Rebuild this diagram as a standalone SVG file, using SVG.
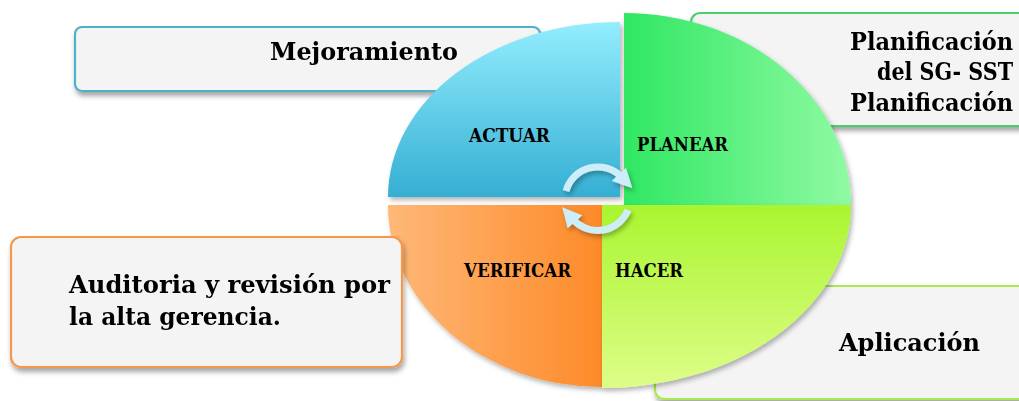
<svg xmlns="http://www.w3.org/2000/svg" width="1019" height="401" viewBox="0 0 1019 401">
<style>
.box{fill:#f4f4f4;stroke-width:2.2}
.big{font-family:"DejaVu Serif","Liberation Serif",serif;font-weight:bold;font-size:25px;fill:#000}
.end{text-anchor:end}
.q{font-family:"DejaVu Serif","Liberation Serif",serif;font-weight:bold;font-size:18px;fill:#000}
.cyc{fill:none;stroke:#cdeef8;stroke-width:7;stroke-linecap:butt}
</style>
<defs>
<filter id="sh" x="-10%" y="-10%" width="130%" height="140%">
<feDropShadow dx="1.5" dy="4" stdDeviation="2.5" flood-color="#000" flood-opacity="0.35"/>
</filter>
<filter id="sh2" x="-10%" y="-10%" width="130%" height="130%">
<feDropShadow dx="2" dy="3" stdDeviation="2.5" flood-color="#000" flood-opacity="0.3"/>
</filter>
<linearGradient id="gBlue" x1="0" y1="22" x2="0" y2="197" gradientUnits="userSpaceOnUse">
<stop offset="0" stop-color="#93edfe"/><stop offset="1" stop-color="#35afd3"/>
</linearGradient>
<linearGradient id="gGreen" x1="624" y1="0" x2="851" y2="0" gradientUnits="userSpaceOnUse">
<stop offset="0" stop-color="#30e763"/><stop offset="1" stop-color="#8ffaa2"/>
</linearGradient>
<linearGradient id="gOrange" x1="388" y1="0" x2="602" y2="0" gradientUnits="userSpaceOnUse">
<stop offset="0" stop-color="#feb878"/><stop offset="1" stop-color="#fd8a28"/>
</linearGradient>
<linearGradient id="gLime" x1="0" y1="205" x2="0" y2="388" gradientUnits="userSpaceOnUse">
<stop offset="0" stop-color="#a9f530"/><stop offset="1" stop-color="#defd88"/>
</linearGradient>
<marker id="ah" viewBox="0 0 10 10" refX="2" refY="5" markerWidth="2.8" markerHeight="2.8" orient="auto" markerUnits="strokeWidth">
<path d="M0,0 L10,5 L0,10 Z" fill="#cdeef8"/>
</marker>
</defs>

<g id="box-mejoramiento" filter="url(#sh)">
<rect class="box" x="75" y="27" width="465" height="64" rx="7" stroke="#4fb0c9"/>
<text class="big" x="270" y="60" textLength="188" lengthAdjust="spacingAndGlyphs">Mejoramiento</text>
</g>
<g id="box-planificacion" filter="url(#sh)">
<rect class="box" x="691" y="13" width="340" height="113" rx="9" stroke="#46cf68"/>
<text class="big end" x="1013" y="50" font-size="24" textLength="163" lengthAdjust="spacingAndGlyphs">Planificación</text>
<text class="big end" x="1013" y="80" font-size="24" textLength="136" lengthAdjust="spacingAndGlyphs">del SG- SST</text>
<text class="big end" x="1013" y="111" font-size="24" textLength="163" lengthAdjust="spacingAndGlyphs">Planificación</text>
</g>
<g id="box-aplicacion" filter="url(#sh)">
<rect class="box" x="655" y="286" width="380" height="113" rx="9" stroke="#a9ea50"/>
<text class="big" x="839" y="351" textLength="141" lengthAdjust="spacingAndGlyphs">Aplicación</text>
</g>

<g id="q-actuar">
<path d="M620 197 L388 197 A232 175 0 0 1 620 22 Z" fill="url(#gBlue)" filter="url(#sh2)"/>
<text class="q" x="469" y="142" textLength="81" lengthAdjust="spacingAndGlyphs">ACTUAR</text>
</g>
<g id="q-planear">
<path d="M624 205 L624 13 A227 192 0 0 1 851 205 Z" fill="url(#gGreen)" filter="url(#sh2)"/>
<text class="q" x="637" y="151" textLength="91" lengthAdjust="spacingAndGlyphs">PLANEAR</text>
</g>
<g id="q-verificar">
<path d="M602 205 L602 387 A214 182 0 0 1 388 205 Z" fill="url(#gOrange)" filter="url(#sh2)"/>
<text class="q" x="464" y="277" textLength="107" lengthAdjust="spacingAndGlyphs">VERIFICAR</text>
</g>
<g id="q-hacer">
<path d="M602 205 L851 205 A249 183 0 0 1 602 388 Z" fill="url(#gLime)" filter="url(#sh2)"/>
<text class="q" x="615" y="277" textLength="68" lengthAdjust="spacingAndGlyphs">HACER</text>
</g>

<g id="box-auditoria" filter="url(#sh)">
<rect class="box" x="11" y="237" width="391" height="130" rx="10" stroke="#f5984a"/>
<text class="big" x="69" y="293" textLength="321" lengthAdjust="spacingAndGlyphs">Auditoria y revisión por</text>
<text class="big" x="69" y="325" textLength="212" lengthAdjust="spacingAndGlyphs">la alta gerencia.</text>
</g>

<g id="connectors" filter="url(#sh2)">
<path class="cyc" d="M566 191 A33 33 0 0 1 621.5 177" marker-end="url(#ah)"/>
<path class="cyc" d="M628 210 A33 33 0 0 1 572.5 219" marker-end="url(#ah)"/>
</g>
</svg>
